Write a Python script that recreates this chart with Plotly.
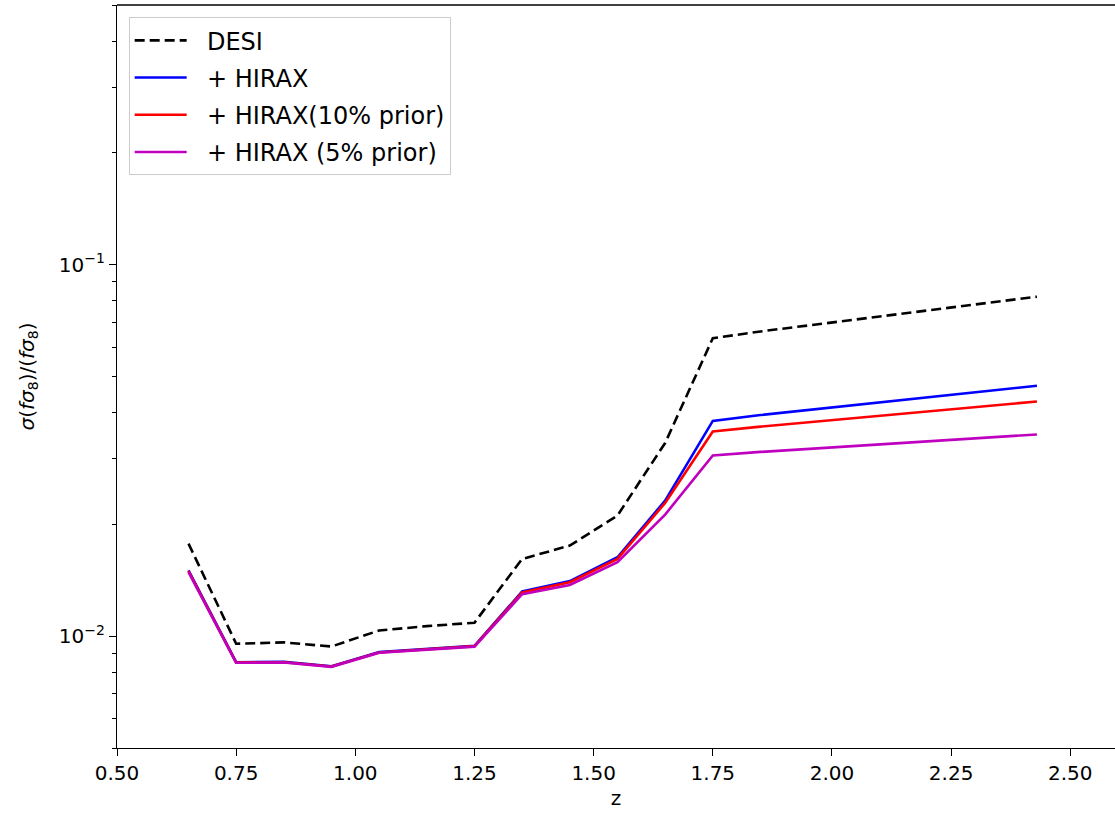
import plotly.graph_objects as go

z = [0.65, 0.75, 0.85, 0.95, 1.05, 1.15, 1.25, 1.35, 1.45, 1.55, 1.65, 1.75, 1.85, 2.43]
desi = [0.01775, 0.00954, 0.00962, 0.00938, 0.01036, 0.01064, 0.01087, 0.01614,
        0.01753, 0.02112, 0.03311, 0.0634, 0.0661, 0.0820]
hirax = [0.01504, 0.00851, 0.00853, 0.00830, 0.00906, 0.00925, 0.00942, 0.01319,
         0.01407, 0.01631, 0.02317, 0.03796, 0.03937, 0.04720]
hirax10 = [0.01497, 0.00849, 0.00851, 0.00829, 0.00904, 0.00923, 0.00940, 0.01311,
           0.01397, 0.01614, 0.02284, 0.03556, 0.03665, 0.04282]
hirax5 = [0.01488, 0.00848, 0.00849, 0.00827, 0.00902, 0.00921, 0.00937, 0.01297,
          0.01374, 0.01581, 0.02125, 0.03066, 0.03133, 0.03491]

names = ["DESI", "+ HIRAX", "+ HIRAX(10% prior)", "+ HIRAX (5% prior)"]
colors = ["black", "#0000ff", "#ff0000", "#bf00bf"]
dashes = ["10px,5px", "solid", "solid", "solid"]
series = [desi, hirax, hirax10, hirax5]

x_ticks = [0.5, 0.75, 1.0, 1.25, 1.5, 1.75, 2.0, 2.25, 2.5]
x_ticktext = ["0.50", "0.75", "1.00", "1.25", "1.50", "1.75", "2.00", "2.25", "2.50"]
y_ticks = [0.01, 0.1]
y_ticktext = ["10<sup>\u22122</sup>", "10<sup>\u22121</sup>"]
y_minor = [0.005, 0.006, 0.007, 0.008, 0.009, 0.02, 0.03, 0.04, 0.05, 0.06, 0.07,
           0.08, 0.09, 0.2, 0.3, 0.4, 0.5]

fig = go.Figure()
for i, (n, c, d, s) in enumerate(zip(names, colors, dashes, series)):
    fig.add_trace(go.Scatter(x=z, y=s, mode="lines", name="\u00a0\u00a0" + n,
                             legendgroup=str(i),
                             line=dict(color=c, width=2.6, dash=d)))

font = dict(family="DejaVu Sans", size=20, color="black")
fig.update_layout(
    width=1115, height=814,
    margin=dict(l=117, r=0, t=5, b=66),
    plot_bgcolor="white", paper_bgcolor="white",
    font=font,
    showlegend=True,
    legend=dict(x=0.0117, y=0.9835, xanchor="left", yanchor="top",
                bordercolor="#cccccc", borderwidth=1, bgcolor="white",
                font=dict(family="DejaVu Sans", size=24, color="black"),
                itemwidth=52, tracegroupgap=3),
    xaxis=dict(range=[0.5, 2.5938], tickvals=x_ticks, ticktext=x_ticktext,
               ticks="outside", ticklen=7, tickwidth=1.3, tickcolor="black",
               showline=True, linecolor="black", linewidth=1.3, mirror=False,
               showgrid=False, zeroline=False,
               title=dict(text="z", standoff=6, font=font)),
    yaxis=dict(type="log", range=[-2.30103, -0.30103], tickvals=y_ticks, ticktext=y_ticktext,
               ticks="outside", ticklen=7, tickwidth=1.3, tickcolor="black",
               showline=True, linecolor="black", linewidth=1.3, mirror=False,
               showgrid=False, zeroline=False,
               minor=dict(tickvals=y_minor, ticks="outside", ticklen=4, tickwidth=1,
                          tickcolor="black", showgrid=False),
               title=dict(text="<i>\u03c3</i>(<i>f\u03c3</i><sub>8</sub>)/(<i>f\u03c3</i><sub>8</sub>)",
                          standoff=18, font=font)),
)
fig.add_shape(type="line", xref="paper", yref="paper", x0=0, x1=1, y0=1, y1=1,
              line=dict(color="black", width=1.3))

fig.write_html("out.html", config={"displayModeBar": False},
               post_script="document.body.style.margin='0';")
